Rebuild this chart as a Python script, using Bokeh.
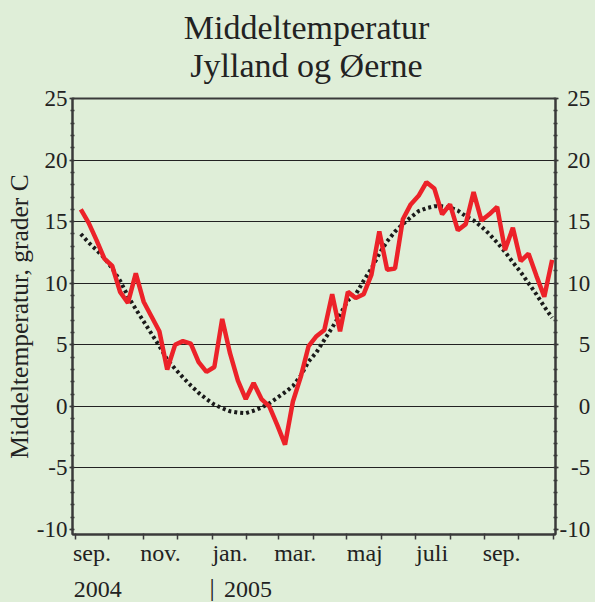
import pandas as pd
from bokeh.plotting import figure
from bokeh.layouts import column
from bokeh.models import Range1d, LinearAxis, FixedTicker, Grid, ColumnDataSource, Label
from bokeh.embed import file_html
from bokeh.resources import INLINE

# ---- data ----
first_week = "2004-09-06"
temp = [16.0, 14.9, 13.5, 12.0, 11.4, 9.3, 8.4, 10.8, 8.5, 7.3,
        6.1, 3.0, 5.0, 5.3, 5.1, 3.6, 2.8, 3.2, 7.1, 4.3,
        2.1, 0.6, 1.9, 0.6, 0.0, -1.5, -3.1, 0.4, 2.4, 4.9,
        5.7, 6.2, 9.1, 6.1, 9.3, 8.8, 9.1, 10.7, 14.2, 11.1,
        11.2, 15.2, 16.4, 17.1, 18.2, 17.7, 15.6, 16.4, 14.3, 14.8,
        17.4, 15.1, 15.6, 16.2, 12.7, 14.5, 11.8, 12.4, 10.6, 8.9,
        11.9]
normal = [14.0, 13.3, 12.7, 12.05, 11.2, 10.2, 8.95, 7.9, 6.9, 5.9,
          4.9, 3.8, 3.05, 2.35, 1.7, 1.1, 0.6, 0.15, -0.15, -0.4,
          -0.5, -0.55, -0.35, -0.1, 0.25, 0.7, 1.15, 1.65, 2.5, 3.65,
          4.4, 5.4, 6.4, 7.45, 8.6, 9.1, 10.2, 11.2, 12.4, 13.4,
          14.2, 14.8, 15.35, 15.85, 16.1, 16.25, 16.25, 16.15, 15.9, 15.45,
          15.1, 14.6, 14.0, 13.3, 12.55, 11.7, 10.9, 10.0, 9.1, 8.1,
          7.2]
month_starts = ["2004-09-01", "2004-10-01", "2004-11-01", "2004-12-01",
                "2005-01-01", "2005-02-01", "2005-03-01", "2005-04-01",
                "2005-05-01", "2005-06-01", "2005-07-01", "2005-08-01",
                "2005-09-01", "2005-10-01", "2005-11-01"]
month_labels = ["sep.", "", "nov.", "", "jan.", "", "mar.", "", "maj", "",
                "juli", "", "sep.", ""]
year_labels = ["2004", "2005"]
year_pos = ["2004-09-21", "2005-02-02"]
year_divider = "2005-01-01"
y_ticks = [-10, -5, 0, 5, 10, 15, 20, 25]
y_tick_labels = ["-10", "-5", "0", "5", "10", "15", "20", "25"]
grid_vals = [-5, 0, 5, 10, 15, 20]
title_lines = ["Middeltemperatur", "Jylland og Øerne"]

origin = pd.Timestamp("2004-09-01")
def day(s):
    return int((pd.Timestamp(s) - origin) / pd.Timedelta(days=1))

dates = pd.date_range(first_week, periods=len(temp), freq="7D")
xdays = [float((d - origin) / pd.Timedelta(days=1)) for d in dates]
src = ColumnDataSource(dict(x=xdays, temp=temp, normal=normal))

starts = [day(s) for s in month_starts]
mids = []
mid_over = {}
for i, lab in enumerate(month_labels):
    if lab:
        m = int(round((starts[i] + starts[i + 1]) / 2))
        mids.append(m)
        mid_over[m] = lab

BG = "#dfeed8"
FONT = "Liberation Serif"
TXT = "#222222"
AX = "#3a3a3a"
W = 595
TOP_H, BOT_H, TOTAL_H = 84, 30, 602

def blank(height, **kw):
    f = figure(width=W, height=height, output_backend="svg", toolbar_location=None,
               x_axis_type=None, y_axis_type=None, **kw)
    f.background_fill_color = BG
    f.border_fill_color = BG
    f.outline_line_color = None
    return f

# ---- main chart ----
p = blank(TOTAL_H - TOP_H - BOT_H,
          x_range=Range1d(-2.4, day("2005-11-01") + 2.0),
          y_range=Range1d(-10.4, 25),
          min_border_left=72, min_border_right=40, min_border_top=14, min_border_bottom=38)
p.outline_line_color = AX
p.outline_line_width = 2

yt = FixedTicker(ticks=y_ticks, minor_ticks=list(range(-10, 26)))

def style_y(ax):
    ax.axis_line_color = AX
    ax.axis_line_width = 2
    ax.major_tick_line_color = AX
    ax.major_tick_line_width = 1.5
    ax.major_tick_in = 1
    ax.major_tick_out = 3
    ax.minor_tick_line_color = AX
    ax.minor_tick_line_width = 1.5
    ax.minor_tick_in = 2
    ax.minor_tick_out = 2
    ax.major_label_text_font = FONT
    ax.major_label_text_font_size = "23px"
    ax.major_label_text_color = TXT

left_over = {t: s for t, s in zip(y_ticks, y_tick_labels)}
yl = LinearAxis(ticker=yt, axis_label="Middeltemperatur, grader C",
                major_label_overrides=left_over)
style_y(yl)
yl.major_label_standoff = 2
yl.axis_label_text_font = FONT
yl.axis_label_text_font_size = "25.5px"
yl.axis_label_text_font_style = "normal"
yl.axis_label_text_color = TXT
yl.axis_label_standoff = 0
p.add_layout(yl, "left")

# right-hand labels are right-aligned: pad with fixed-width spaces
def pad(s):
    w = sum(0.333 if c == "-" else 0.5 for c in s)
    need = 1.333 - w
    out = ""
    while need > 0.45:
        out += "\u2007"
        need -= 0.5
    if need > 0.2:
        out += "\u2004"
    return out + s

right_over = {t: pad(s) for t, s in zip(y_ticks, y_tick_labels)}
yr = LinearAxis(ticker=yt, major_label_overrides=right_over)
style_y(yr)
yr.major_label_standoff = 1
p.add_layout(yr, "right")

xm = LinearAxis(ticker=FixedTicker(ticks=mids, minor_ticks=starts),
                major_label_overrides=mid_over)
xm.axis_line_color = AX
xm.axis_line_width = 2
xm.major_tick_line_color = None
xm.minor_tick_line_color = AX
xm.minor_tick_line_width = 1.5
xm.minor_tick_in = 1
xm.minor_tick_out = 5
xm.major_tick_out = 5
xm.major_tick_in = 0
xm.major_label_standoff = 0
xm.major_label_text_font = FONT
xm.major_label_text_font_size = "24px"
xm.major_label_text_color = TXT
p.add_layout(xm, "below")

p.add_layout(Grid(dimension=1, ticker=FixedTicker(ticks=grid_vals),
                  grid_line_color="#222222", grid_line_width=1.2))

p.line("x", "normal", source=src, line_color="#1a1a1a", line_width=4,
       line_dash="3 3")
p.line("x", "temp", source=src, line_color="#ec2229", line_width=4.5)

# ---- title strip (frame is aligned with the main chart's frame) ----
pt = blank(TOP_H, x_range=Range1d(0, W), y_range=Range1d(0, TOP_H), min_border=0)
for line, yy in zip(title_lines, [57, 19]):
    pt.add_layout(Label(x=234, y=yy, x_units="screen", y_units="screen",
                        text=line, text_align="center", text_baseline="alphabetic",
                        text_font=FONT, text_font_size="34px", text_color=TXT))

# ---- year strip ----
pb = blank(BOT_H, x_range=p.x_range, y_range=Range1d(0, BOT_H),
           min_border_left=72, min_border_right=40, min_border_top=0, min_border_bottom=0)
for pos, lab in zip(year_pos, year_labels):
    pb.add_layout(Label(x=day(pos), y=13, x_units="data", y_units="screen",
                        text=lab, text_align="center", text_baseline="alphabetic",
                        text_font=FONT, text_font_size="24px", text_color=TXT))
pb.add_layout(Label(x=day(year_divider), y=15, x_units="data", y_units="screen",
                    text="|", text_align="center", text_baseline="alphabetic",
                    text_font=FONT, text_font_size="26px", text_color=TXT))

layout = column(pt, p, pb, spacing=0, styles={"background-color": BG})
open("out.html", "w").write(file_html(layout, INLINE))
